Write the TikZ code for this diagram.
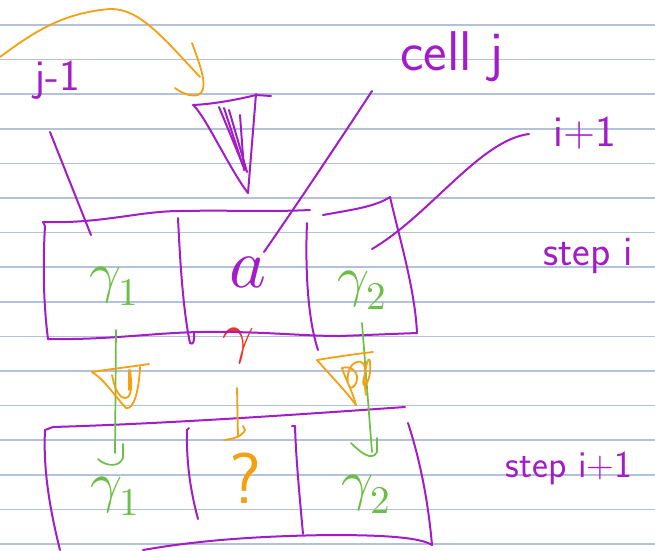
\documentclass[tikz,border=0pt]{standalone}
\usepackage{fontspec}
\usepackage{unicode-math}
\setmathfont{Latin Modern Math}
\definecolor{pur}{HTML}{A21CC8}
\definecolor{grn}{HTML}{6CBF45}
\definecolor{org}{HTML}{F5A010}
\definecolor{rd}{HTML}{EE3322}
\definecolor{rule}{HTML}{B2C2DA}
\begin{document}
\begin{tikzpicture}[x=1pt,y=-1pt,line cap=round,line join=round,
  ruled/.style={draw=rule,line width=1.6pt},
  ppen/.style={draw=pur,line width=2pt},
  gpen/.style={draw=grn,line width=1.7pt},
  open/.style={draw=org,line width=1.8pt},
  rpen/.style={draw=rd,line width=1.8pt},
  lbl/.style={inner sep=0pt,text=pur,font=\sffamily\fontsize{#1}{#1}\selectfont},
  glbl/.style={inner sep=0pt,text=grn,font=\fontsize{#1}{#1}\selectfont}]
\useasboundingbox (0,0) rectangle (655,550);
\fill[white] (0,0) rectangle (655,550);
\foreach \k in {0,...,15} \draw[ruled] (0,25+34.6*\k) -- (655,25+34.6*\k);

% labels
\node[lbl=44] (jm) at (57,80) {j-1};
\node[lbl=56] (cellj) at (452,57) {cell j};
\node[lbl=44] (ip) at (585,133) {i+1};
\node[lbl=42] (stepi) at (588,256) {step i};
\node[lbl=38] (stepip) at (569,468) {step i+1};
\node[glbl=56] (g1t) at (114,286) {$\gamma_1$};
\node[inner sep=0pt,text=pur,font=\fontsize{70}{70}\selectfont] (at) at (248,272) {$a$};
\node[glbl=56] (g2t) at (362,290) {$\gamma_2$};
\node[inner sep=0pt,text=rd,font=\fontsize{56}{56}\selectfont] (rg) at (238,346) {$\gamma$};
\node[inner sep=0pt,text=org,font=\sffamily\fontsize{72}{72}\selectfont] (qm) at (245,478) {?};
\node[glbl=56] (g1b) at (115,496) {$\gamma_1$};
\node[glbl=56] (g2b) at (366,494) {$\gamma_2$};

% connector end points
\coordinate (jmS) at (50,132);  \coordinate (jmE) at (91,235);
\coordinate (cjS) at (372,91);  \coordinate (cjE) at (264,252);
\coordinate (ipS) at (529,134); \coordinate (ipE) at (372,249);
\coordinate (g1S) at (116,330); \coordinate (g1E) at (115,453);
\coordinate (g2S) at (362,323); \coordinate (g2E) at (372,452);
\coordinate (oS) at (237,388);  \coordinate (oE) at (238,437);
\coordinate (arS) at (0,57);    \coordinate (arE) at (200,77);

% purple connectors
\draw[ppen] (jmS) -- (jmE);
\draw[ppen] (cjS) .. controls (340,140) and (300,200) .. (cjE);
\draw[ppen] (ipS) .. controls (480,140) and (430,215) .. (ipE);

% orange top curve with hand arrow head
\draw[open] (arS) .. controls (30,35) and (60,13) .. (110,9) .. controls (140,8) and (165,40) .. (arE);
\draw[open] (192,43) .. controls (200,65) and (210,90) .. (198,95) .. controls (190,97) and (182,93) .. (175,88);

% purple funnel
\draw[ppen] (193,105) .. controls (215,104) and (240,99) .. (256,95) -- (271,96);
\draw[ppen] (193,105) .. controls (205,115) and (230,170) .. (248,193);
\draw[ppen] (256,94) -- (248,193);
\draw[ppen] (219,107) -- (245,170);
\draw[ppen] (224,108) -- (243,166);
\draw[ppen] (229,110) -- (247,172);
\draw[ppen] (240,115) -- (244,170);

% top box
\draw[ppen] (43,222) .. controls (100,224) and (140,211) .. (180,211) .. controls (230,210) and (270,212) .. (310,210);
\draw[ppen] (323,215) .. controls (350,210) and (375,207) .. (390,197);
\draw[ppen] (390,197) .. controls (400,240) and (415,290) .. (417,333);
\draw[ppen] (48,339) .. controls (110,340) and (150,333) .. (200,332) .. controls (260,331) and (300,336) .. (340,336) -- (417,333);
\draw[ppen] (43,222) -- (45,226) .. controls (43,260) and (43,300) .. (48,339);
\draw[ppen] (178,218) .. controls (180,260) and (183,310) .. (190,343) .. controls (193,346) and (195,340) .. (194,333);
\draw[ppen] (307,223) .. controls (305,270) and (308,320) .. (318,350);

% bottom box
\draw[ppen] (45,430) -- (53,427) .. controls (150,424) and (250,418) .. (405,407);
\draw[ppen] (45,430) .. controls (43,470) and (50,510) .. (60,550);
\draw[ppen] (143,550) .. controls (200,540) and (260,536) .. (330,535) .. controls (380,535) and (420,537) .. (432,545);
\draw[ppen] (408,423) .. controls (420,460) and (428,500) .. (432,545);
\draw[ppen] (189,428) -- (187,430) .. controls (186,470) and (193,500) .. (198,519);
\draw[ppen] (292,426) -- (295,426) .. controls (296,460) and (300,500) .. (303,534);

% green arrows
\draw[gpen] (g1S) -- (g1E);
\draw[gpen] (98,459) .. controls (105,466) and (119,468) .. (123,458) -- (123,444);
\draw[gpen] (g2S) -- (g2E);
\draw[gpen] (351,443) .. controls (360,452) and (372,462) .. (377,452) -- (377,438);

% orange middle arrow
\draw[open] (oS) -- (oE);
\draw[open] (224,440) .. controls (232,439) and (242,437) .. (245,430) -- (243,426);

% orange funnels
\draw[open] (92,372) .. controls (110,369) and (130,367) .. (149,364);
\draw[open] (92,372) .. controls (105,380) and (118,400) .. (126,408) .. controls (134,410) and (139,390) .. (140,367);
\draw[open] (112,375) .. controls (114,385) and (118,398) .. (125,398) .. controls (132,398) and (132,385) .. (130,370);
\draw[open] (129,370) -- (129,390);
\draw[open] (317,360) .. controls (335,357) and (355,354) .. (373,352);
\draw[open] (317,360) .. controls (330,375) and (345,390) .. (356,405);
\draw[open] (356,405) .. controls (352,390) and (345,378) .. (342,368) .. controls (350,365) and (362,372) .. (355,385)
   .. controls (348,395) and (344,375) .. (352,365) .. controls (360,358) and (368,362) .. (364,378)
   .. controls (360,392) and (372,385) .. (370,362) .. controls (369,352) and (362,372) .. (366,395);
\end{tikzpicture}
\end{document}
